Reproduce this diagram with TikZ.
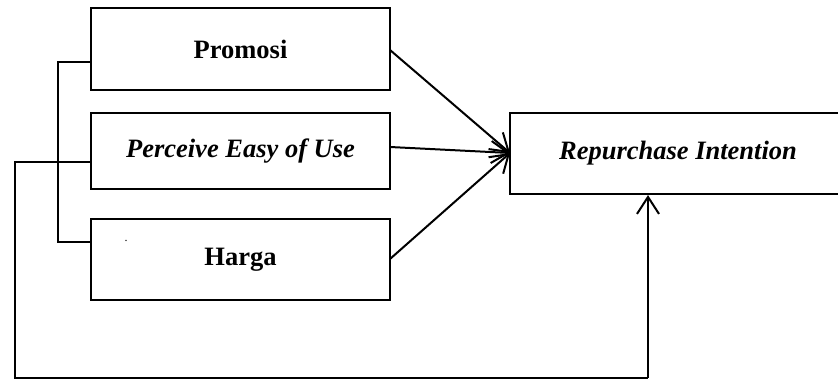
\documentclass[tikz,border=0pt]{standalone}
\usepackage{fontspec}
\setmainfont{Liberation Serif}
\usetikzlibrary{arrows.meta}
\begin{document}
\begin{tikzpicture}[x=1pt,y=-1pt,
  box/.style={draw,line width=2.2pt,inner sep=0pt,font=\fontsize{26.5}{30}\selectfont\bfseries},
  conn/.style={line width=2pt},
  arr/.style={conn,-{Straight Barb[length=17pt,width=22pt,line width=2pt]}}]
\useasboundingbox (0,0) rectangle (838,379);
\node[box,minimum width=299pt,minimum height=82pt] (pro) at (240.5,49) {Promosi};
\node[box,minimum width=299pt,minimum height=76pt] (peu) at (240.5,151) {\itshape Perceive Easy of Use};
\node[box,minimum width=299pt,minimum height=81pt] (har) at (240.5,259.5) {\raisebox{-3pt}{Harga}};
\node[font=\fontsize{12}{12}\selectfont,inner sep=0pt] (dot) at (126,241) {.};
\node[box,minimum width=336pt,minimum height=81pt] (rep) at (678,153.5) {\itshape Repurchase Intention};
\coordinate (tip) at (510,153);
\draw[arr] (390,50) -- (tip);
\draw[arr] (390,147) -- (tip);
\draw[arr] (390,259) -- (tip);
\coordinate (b1) at (58,62);
\coordinate (b2) at (58,242);
\draw[conn] (pro.west |- b1) -- (b1) -- (b2) -- (har.west |- b2);
\coordinate (l1) at (15,162);
\coordinate (l2) at (15,378);
\coordinate (l3) at (648,378);
\draw[conn] (peu.west |- l1) -- (l1) -- (l2) -- (l3);
\draw[arr] (l3) -- (l3 |- rep.south);
\end{tikzpicture}
\end{document}
